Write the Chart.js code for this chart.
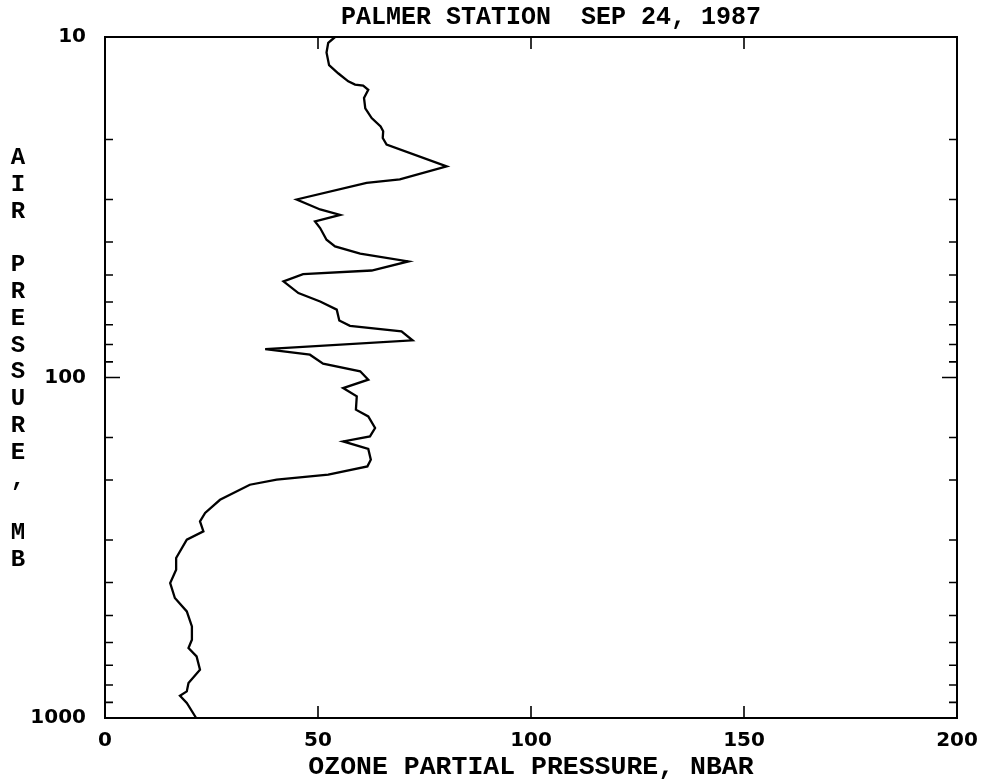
<!DOCTYPE html>
<html>
<head>
<meta charset="utf-8">
<script src="https://cdn.jsdelivr.net/npm/chart.js@4/dist/chart.umd.min.js"></script>
<style>
  html, body { margin: 0; padding: 0; background: #fff; }
  #wrap { width: 992px; height: 781px; position: relative; }
</style>
</head>
<body>
<div id="wrap"><canvas id="ozoneChart"></canvas></div>
<script>
// Ozone sounding (top to bottom)
const pressure = [10.0, 10.4, 11.1, 12.1, 12.8, 13.5, 13.8, 13.9, 14.3, 15.1,
    16.2, 17.3, 18.3, 18.9, 19.8, 20.7, 24.0, 26.2, 26.8, 30.0,
    32.1, 33.3, 34.8, 36.4, 39.4, 41.2, 43.3, 45.6, 48.5, 49.7,
    52.2, 56.5, 59.8, 63.2, 68.0, 70.5, 73.2, 77.8, 82.5, 85.7,
    91.1, 95.9, 101.5, 107.4, 113.6, 124.3, 130.1, 140.7, 148.9, 154.1,
    162.2, 174.3, 182.4, 193.0, 199.6, 206.5, 228.6, 250.0, 264.7, 283.1,
    299.5, 338.8, 366.9, 401.5, 444.3, 486.4, 538.3, 588.8, 622.9, 659.2,
    721.1, 788.9, 835.3, 860.0, 903.6, 1000];
const ozone = [54.0, 52.4, 52.0, 52.6, 54.8, 57.1, 58.7, 60.6, 61.8, 60.8,
    61.1, 62.6, 64.7, 65.3, 65.2, 66.1, 80.2, 69.2, 61.4, 45.0,
    50.5, 55.2, 49.3, 50.5, 52.0, 54.0, 59.9, 71.2, 62.6, 46.5,
    41.9, 45.4, 50.5, 54.4, 55.0, 57.5, 69.6, 72.2, 37.6, 48.1,
    51.2, 59.9, 61.8, 55.9, 59.1, 58.9, 61.8, 63.4, 62.2, 55.9,
    61.8, 62.4, 61.6, 52.4, 40.3, 34.0, 27.0, 23.5, 22.3, 23.1,
    19.2, 16.7, 16.7, 15.3, 16.4, 19.2, 20.4, 20.4, 19.6, 21.5,
    22.3, 19.6, 19.2, 17.6, 19.2, 21.4];

const xTicks = [0, 50, 100, 150, 200];
const yLabels = [10, 100, 1000];

const titleText = 'PALMER STATION  SEP 24, 1987';
const xTitle = 'OZONE PARTIAL PRESSURE, NBAR';
const yTitle = 'AIR PRESSURE, MB';

const monoFont = "'Liberation Mono', 'DejaVu Sans Mono', monospace";
const tickFont = "'DejaVu Sans', sans-serif";

// frame, inward tick marks, the title and the stacked y title
const framePlugin = {
    id: 'frame',
    afterDraw(chart) {
        const ctx = chart.ctx;
        const a = chart.chartArea;
        const xs = chart.scales.x;
        const ys = chart.scales.y;
        ctx.save();
        ctx.strokeStyle = '#000';
        ctx.lineWidth = 2;
        ctx.strokeRect(a.left, a.top, a.right - a.left, a.bottom - a.top);

        ctx.lineWidth = 1.6;
        ctx.beginPath();
        xs.ticks.forEach(t => {
            if (t.value <= xs.min || t.value >= xs.max) return;
            const px = xs.getPixelForValue(t.value);
            ctx.moveTo(px, a.bottom); ctx.lineTo(px, a.bottom - 12);
            ctx.moveTo(px, a.top); ctx.lineTo(px, a.top + 12);
        });
        ys.ticks.forEach(t => {
            if (t.value <= ys.min || t.value >= ys.max) return;
            const py = ys.getPixelForValue(t.value);
            const len = yLabels.includes(t.value) ? 15 : 8;
            ctx.moveTo(a.left, py); ctx.lineTo(a.left + len, py);
            ctx.moveTo(a.right, py); ctx.lineTo(a.right - len, py);
        });
        ctx.stroke();

        ctx.fillStyle = '#000';
        ctx.textAlign = 'center';
        ctx.textBaseline = 'middle';
        ctx.font = 'bold 25px ' + monoFont;
        ctx.fillText(titleText, 551, 18);

        ctx.font = 'bold 24px ' + monoFont;
        yTitle.split('').forEach((c, i) => {
            if (c !== ' ') ctx.fillText(c, 18, 158 + i * 26.8);
        });
        ctx.restore();
    }
};

new Chart(document.getElementById('ozoneChart'), {
    type: 'scatter',
    data: {
        datasets: [{
            data: ozone.map((v, i) => ({ x: v, y: pressure[i] })),
            showLine: true,
            borderColor: '#000',
            borderWidth: 2.3,
            pointRadius: 0,
            tension: 0,
            clip: false
        }]
    },
    options: {
        responsive: true,
        maintainAspectRatio: false,
        animation: false,
        layout: { padding: { left: 0, right: 35, top: 37, bottom: 0 } },
        plugins: {
            legend: { display: false },
            tooltip: { enabled: false },
            title: { display: false }
        },
        scales: {
            x: {
                type: 'linear',
                min: 0,
                max: 200,
                afterFit(scale) { scale.height = 63; },
                afterBuildTicks(scale) { scale.ticks = xTicks.map(v => ({ value: v })); },
                grid: { display: false },
                border: { display: false },
                ticks: {
                    color: '#000',
                    padding: 3,
                    maxRotation: 0,
                    font: { family: tickFont, size: 20, weight: 'bold' }
                },
                title: {
                    display: true,
                    text: xTitle,
                    color: '#000',
                    font: { family: monoFont, size: 26.5, weight: 'bold', lineHeight: 1 },
                    padding: { top: 0, bottom: 0 }
                }
            },
            y: {
                type: 'logarithmic',
                reverse: true,
                min: 10,
                max: 1000,
                afterFit(scale) { scale.width = 105; },
                grid: { display: false },
                border: { display: false },
                ticks: {
                    color: '#000',
                    padding: 11,
                    autoSkip: false,
                    font: { family: tickFont, size: 20, weight: 'bold' },
                    callback: (v) => yLabels.includes(v) ? String(v) : ''
                }
            }
        }
    },
    plugins: [framePlugin]
});
</script>
</body>
</html>
